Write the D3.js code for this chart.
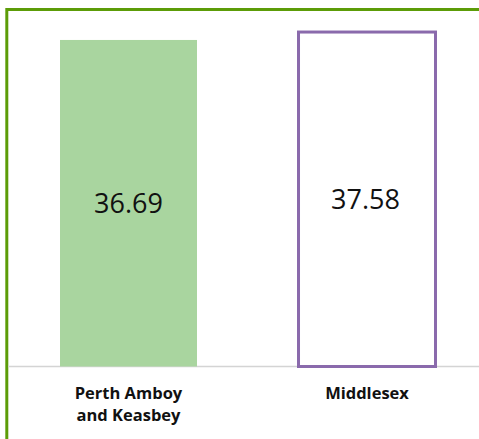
<!DOCTYPE html>
<html>
<head>
<meta charset="utf-8">
<script src="https://cdn.jsdelivr.net/npm/d3@7"></script>
<style>
  body { margin: 0; background: #fff; }
  svg { display: block; font-family: "Open Sans", sans-serif; }
</style>
</head>
<body>
<div id="chart"></div>
<script>
const categories = ["Perth Amboy\nand Keasbey", "Middlesex"];
const values = [36.69, 37.58];
const yMax = 40;

const width = 479;
const height = 439;

const svg = d3.select("#chart").append("svg")
    .attr("width", width)
    .attr("height", height);

// outer frame (only top and left edges show in the picture)
svg.append("path")
    .attr("d", "M6.8,439 V9.5 H479")
    .attr("fill", "none")
    .attr("stroke", "#5c9c08")
    .attr("stroke-width", 3);

const x = d3.scaleBand()
    .domain(categories)
    .range([12.6, 481.4])
    .paddingInner(0.422)
    .paddingOuter(0.2);

const y = d3.scaleLinear()
    .domain([0, yMax])
    .range([366.5, 10.5]);

// baseline
svg.append("line")
    .attr("x1", 8).attr("x2", width)
    .attr("y1", y(0)).attr("y2", y(0))
    .attr("stroke", "#d4d4d4")
    .attr("stroke-width", 1.5);

const bars = svg.selectAll("g.bar")
    .data(values)
    .enter()
    .append("g")
    .attr("class", "bar");

bars.append("rect")
    .attr("x", (d, i) => i === 0 ? x(categories[i]) : x(categories[i]) + 1.5)
    .attr("width", x.bandwidth())
    .attr("y", d => y(d))
    .attr("height", d => y(0) - y(d))
    .attr("fill", (d, i) => i === 0 ? "#a9d59f" : "#fff")
    .attr("stroke", (d, i) => i === 0 ? "none" : "#8a6aac")
    .attr("stroke-width", 3);

bars.append("text")
    .attr("x", (d, i) => x(categories[i]) + x.bandwidth() / 2)
    .attr("y", d => (y(d) + y(0)) / 2)
    .attr("dy", "0.35em")
    .attr("text-anchor", "middle")
    .style("font-size", "27px")
    .style("fill", "#111")
    .text(d => d.toFixed(2));

// category labels
const labels = svg.selectAll("text.cat")
    .data(categories)
    .enter()
    .append("text")
    .attr("class", "cat")
    .attr("x", (d, i) => x(d) + x.bandwidth() / 2 + (i === 0 ? 0 : 1.5))
    .attr("y", 399)
    .attr("text-anchor", "middle")
    .style("font-size", "16.5px")
    .style("font-weight", "bold")
    .style("fill", "#111");

labels.selectAll("tspan")
    .data(d => d.split("\n"))
    .enter()
    .append("tspan")
    .attr("x", function () { return d3.select(this.parentNode).attr("x"); })
    .attr("dy", (d, i) => i === 0 ? 0 : 22)
    .text(d => d);
</script>
</body>
</html>
